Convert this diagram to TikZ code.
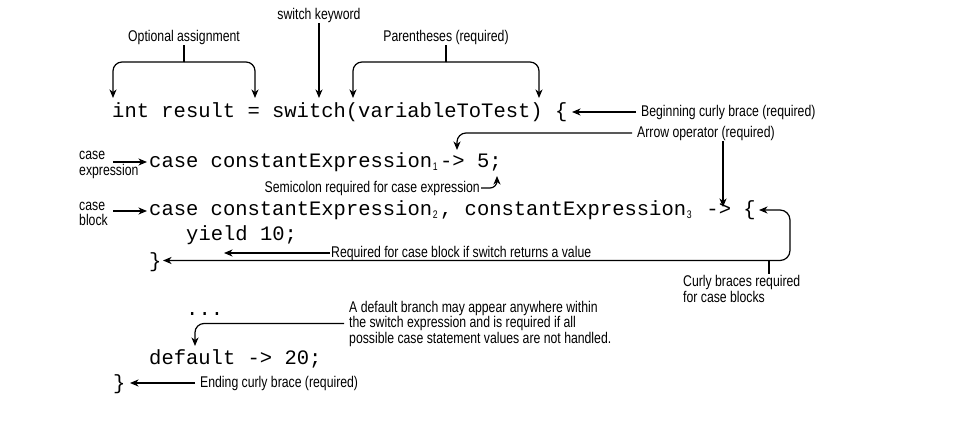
\documentclass[tikz,border=0pt]{standalone}
\usepackage{fontspec}
\usetikzlibrary{arrows.meta}
\newfontfamily\lab[FakeStretch=0.79]{Liberation Sans}
\newfontfamily\code{Liberation Mono}
\newcommand\subnum[1]{\makebox[8pt][l]{\raisebox{-3.5pt}{\lab\fontsize{11}{11}\selectfont\kern0.8pt #1}}}
\begin{document}
\begin{tikzpicture}[x=1pt,y=-1pt,
  lbl/.style={font=\lab\fontsize{15.5}{15.5}\selectfont, inner sep=1pt, align=left},
  codeln/.style={font=\code\fontsize{20.5}{24}\selectfont\frenchspacing, inner sep=0pt, anchor=base west},
  arr/.style={-{Stealth[length=8.5pt,width=7pt,inset=2.5pt]}, line width=1.2pt},
  dbl/.style={{Stealth[length=8.5pt,width=7pt,inset=2.5pt]}-{Stealth[length=8.5pt,width=7pt,inset=2.5pt]}, line width=1.2pt},
  ln/.style={line width=1.2pt},
  gap/.style={shorten <=4pt}]
\useasboundingbox[fill=white] (0,0) rectangle (955,426);

% code
\node[codeln] (L1) at (112,117) {int result = switch(variableToTest) \{};
\node[codeln] (L2) at (149,167) {case constantExpression\subnum{1}-> 5;};
\node[codeln] (L3) at (149,215) {case constantExpression\subnum{2}, constantExpression\subnum{3} -> \{};
\node[codeln] (L4) at (186,240) {yield 10;};
\node[codeln] (cb) at (149,267) {\}};
\node[codeln] (dots) at (186,315) {...};
\node[codeln] (L6) at (149,364) {default -> 20;};
\node[codeln] (eb) at (113,389) {\}};

% labels
\node[lbl] (sk) at (319,15) {switch keyword};
\node[lbl] (oa) at (184,37) {Optional assignment};
\node[lbl] (pr) at (446,37) {Parentheses (required)};
\node[lbl,anchor=west] (bc) at (640,112) {Beginning curly brace (required)};
\node[lbl,anchor=west] (ao) at (636,133) {Arrow operator (required)};
\node[lbl,anchor=west] (ce) at (78,165) {case\\expression};
\node[lbl,anchor=east] (sc) at (481,188) {Semicolon required for case expression};
\node[lbl,anchor=west] (cbk) at (78,214) {case\\block};
\node[lbl,anchor=west] (rq) at (330,253) {Required for case block if switch returns a value};
\node[lbl,anchor=west] (cbr) at (682,289) {Curly braces required\\for case blocks};
\node[lbl,anchor=west] (dl) at (348,323.5) {A default branch may appear anywhere within\\the switch expression and is required if all\\possible case statement values are not handled.};
\node[lbl,anchor=west] (ec) at (199,383) {Ending curly brace (required)};

% optional assignment
\coordinate (oaJ) at (184,62);
\coordinate (oaL) at (113,98);
\coordinate (oaR) at (255,98);
\draw[ln] (oa.south) -- (oaJ);
\draw[arr,rounded corners=9pt] (oaJ) -| (oaL);
\draw[arr,rounded corners=9pt] (oaJ) -| (oaR);
% switch keyword
\coordinate (skT) at (319,98);
\draw[arr] (sk.south) -- (skT);
% parentheses
\coordinate (prJ) at (446,62);
\coordinate (prL) at (353,98);
\coordinate (prR) at (539,98);
\draw[ln] (pr.south) -- (prJ);
\draw[arr,rounded corners=9pt] (prJ) -| (prL);
\draw[arr,rounded corners=9pt] (prJ) -| (prR);
% beginning brace
\coordinate (bcT) at (572,112);
\draw[arr,gap] (bc.west) -- (bcT |- bc.west);
% arrow operator
\coordinate (aoT1) at (457,150);
\draw[arr,gap,rounded corners=9pt] (ao.west) -| (aoT1);
\coordinate (aoT2) at (723,207);
\draw[arr] (ao.south -| aoT2) -- (aoT2);
% case labels
\coordinate (ceS) at (113,162);
\coordinate (ceT) at (147,162);
\draw[arr] (ceS) -- (ceT);
\coordinate (cbS) at (113,211);
\coordinate (cbT) at (147,211);
\draw[arr] (cbS) -- (cbT);
% semicolon
\coordinate (scT) at (497,176);
\draw[arr,rounded corners=7pt] (sc.east) -| (scT);
% curly braces for blocks
\coordinate (cbA) at (759,210);
\coordinate (cbC) at (790,260.5);
\coordinate (cbB) at (163,260.5);
\draw[dbl,rounded corners=10pt] (cbA) -| (cbC) -- (cbB);
\coordinate (tick) at (769,260.5);
\draw[ln] (tick) -- (tick |- cbr.north);
% yield
\coordinate (rqT) at (224,252);
\draw[arr] (rq.west) -- (rqT |- rq.west);
% default
\coordinate (dlT) at (195,346);
\draw[arr,gap,rounded corners=9pt] (dl.west) -| (dlT);
% ending brace
\coordinate (ecT) at (130,383);
\draw[arr,gap] (ec.west) -- (ecT |- ec.west);
\end{tikzpicture}
\end{document}
